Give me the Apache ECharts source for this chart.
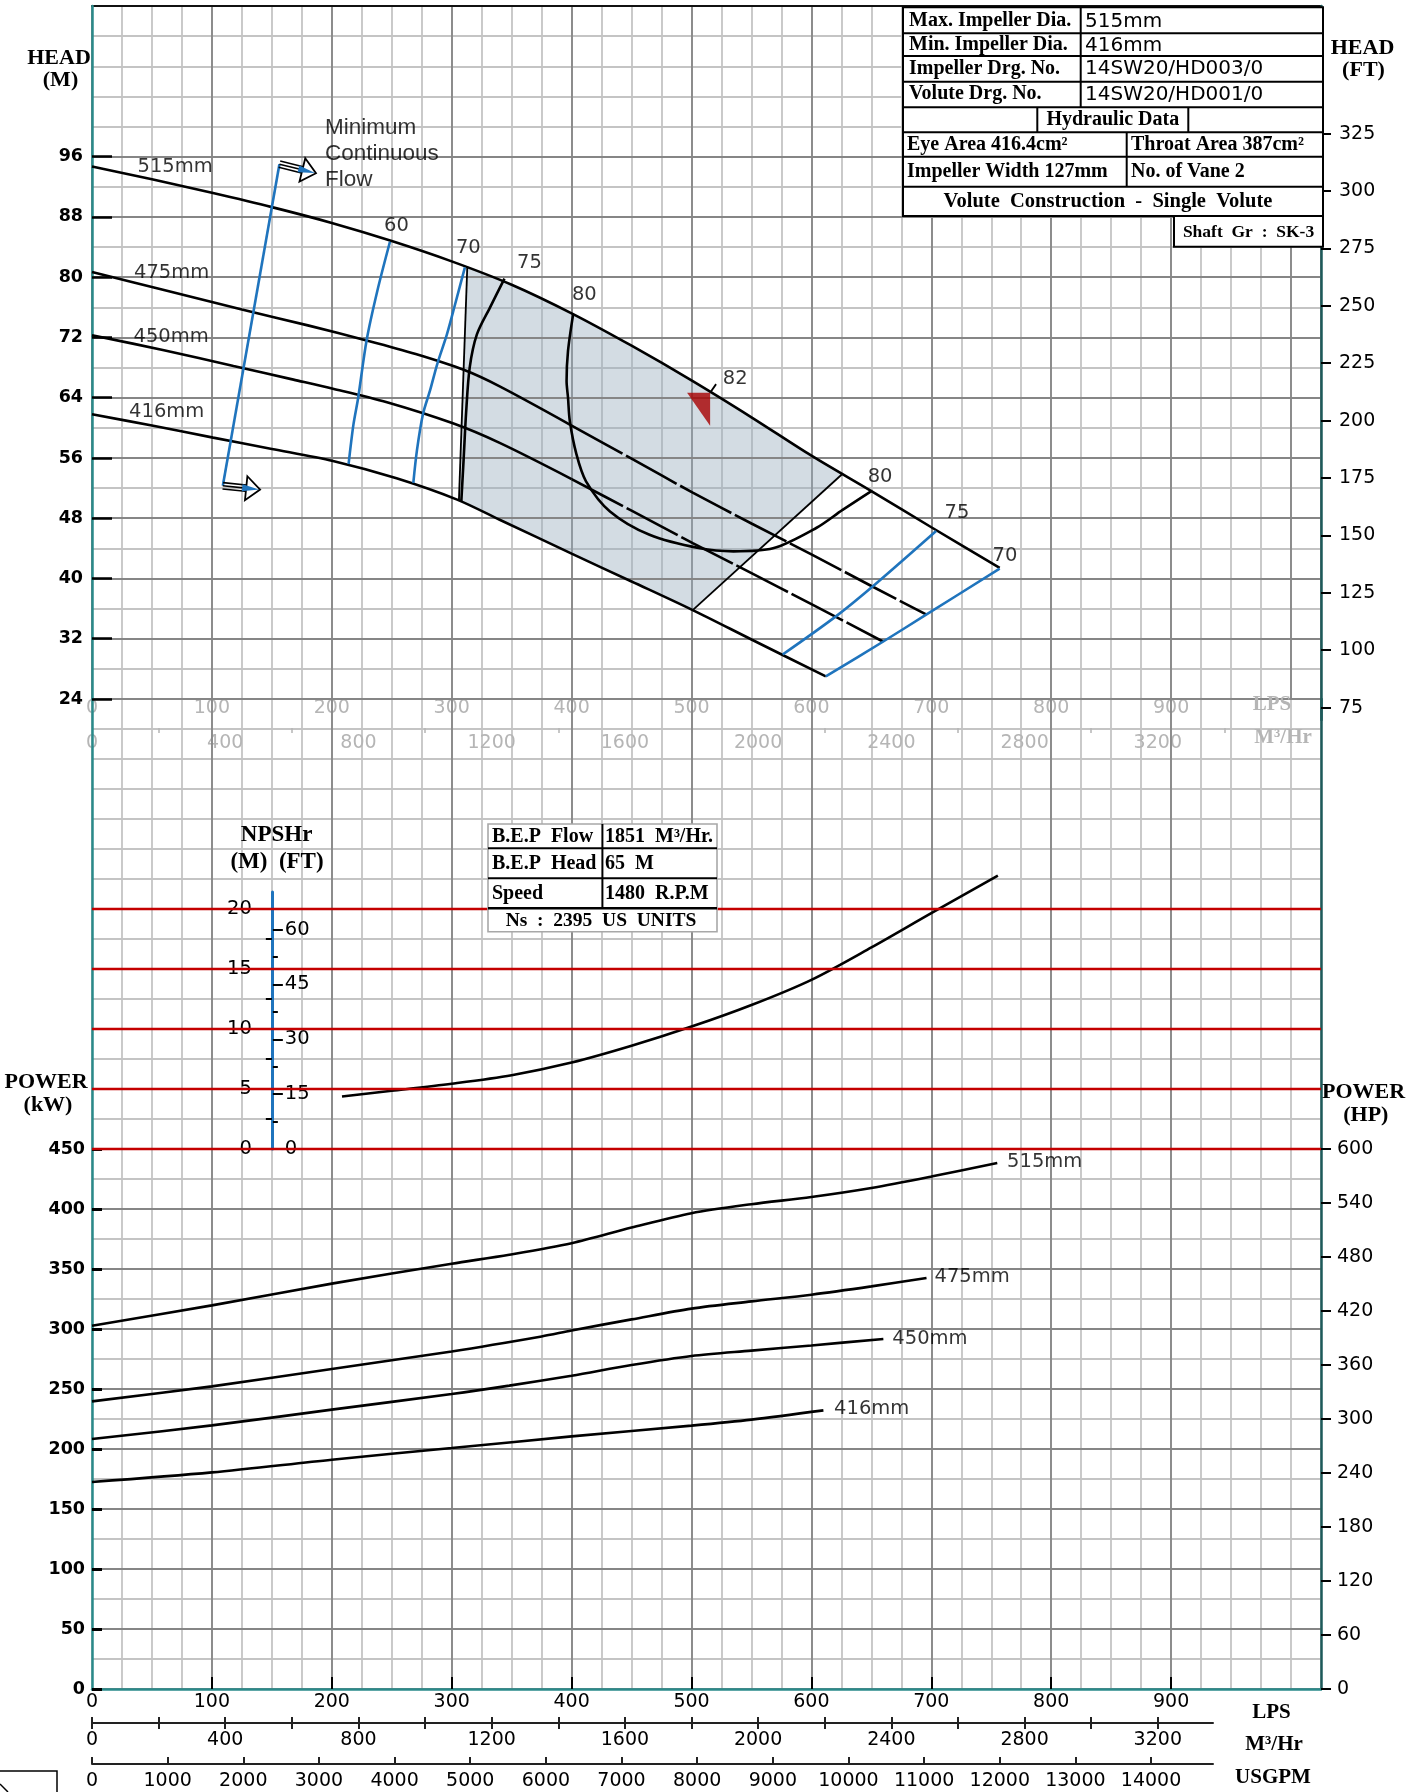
<!DOCTYPE html>
<html><head><meta charset="utf-8"><title>Pump performance curve</title>
<script src="https://cdn.jsdelivr.net/npm/echarts@6.0.0/dist/echarts.min.js"></script>
<style>html,body{margin:0;padding:0;background:#fff;}#chart{width:1423px;height:1792px;}</style>
</head><body><div id="chart"></div>
<script>
// ================= DATA =================
const lpsLabels = [0,100,200,300,400,500,600,700,800,900];
const m3hLabels = [0,400,800,1200,1600,2000,2400,2800,3200];
const m3hTicks = [0,200,400,600,800,1000,1200,1400,1600,1800,2000,2200,2400,2600,2800,3000,3200];
const m3hGrayTicks = [200,600,1000,1400,1800,2200,2600,3000,3400];
const gpmLabels = [0,1000,2000,3000,4000,5000,6000,7000,8000,9000,10000,11000,12000,13000,14000];
const headMLabels = [24,32,40,48,56,64,72,80,88,96];
const headFtLabels = [75,100,125,150,175,200,225,250,275,300,325];
const powerKwLabels = [0,50,100,150,200,250,300,350,400,450];
const powerHpLabels = [0,60,120,180,240,300,360,420,480,540,600];
const npshMLabels = [0,5,10,15,20];
const npshMMinor = [2.5,7.5,12.5,17.5];
const npshFtLabels = [0,15,30,45,60];
const npshFtMinor = [7.5,22.5,37.5,52.5];

// Head (m) vs flow (LPS) per impeller diameter
const head515 = [[0,94.7],[50,93.0],[100,91.2],[150,89.3],[200,87.2],[250,84.8],[300,82.1],[350,79.0],[400,75.2],[450,70.9],[500,66.3],[550,61.4],[600,56.3],[650,51.6],[700,46.8],[757,41.4]];
const head475 = [[0,80.7],[60,78.3],[125,75.7],[180,73.6],[229,71.6],[270,69.8],[310,67.7],[340,65.5],[400,60.3],[450,55.9],[501,51.4],[550,47.3],[600,43.2],[650,39.0],[696,35.2]];
const head450 = [[0,72.3],[60,70.3],[118,68.2],[168,66.4],[201,65.2],[246,63.4],[301,60.6],[340,58.0],[400,53.2],[450,49.0],[501,44.7],[550,40.7],[600,36.6],[660,31.6]];
const head416 = [[0,61.8],[50,60.3],[101,58.7],[150,57.2],[201,55.6],[254,53.3],[304,50.5],[340,47.8],[400,43.3],[450,39.6],[501,35.8],[550,31.9],[612,27.0]];

// Efficiency iso-lines (LPS, m)
const eff60 = [[248.5,84.7],[238,78.2],[229,71.6],[222,64.0],[218,60.4],[214,55.2]];
const eff70L = [[311,81.3],[303,76.5],[296,72.4],[288,68.5],[282,65.0],[276,61.8],[271,57.0],[268,52.7]];
const eff75L = [[344,79.8],[332,76.0],[321,72.4],[315,68.0],[312,62.0],[310,56.0],[308,50.2]];
const eff80 = [[401.3,75.1],[397,70.2],[395.8,66.2],[397,64.0],[398.5,60.9],[404,56.5],[412,52.9],[432,48.9],[465,45.8],[507,44.0],[535,43.6],[568,44.0],[604,46.7],[626,49.1],[650,51.6]];
const eff75R = [[704,46.3],[653,39.2],[620.7,35.0],[576,29.9]];
const eff70R = [[757,41.3],[695.7,35.2],[659.6,31.6],[612,27.0]];
const rangeLeft = [[313,81.4],[306,50.3]];
const rangeRight = [[626,53.9],[501,35.8]];

// Minimum continuous flow line and arrows [x1,y1,x2,y2]
const minFlowLine = [[156.3,95.0],[109.1,52.3]];
const minFlowArrows = [[156.3,95.0,186.8,93.8],[109.1,52.3,140.2,51.8]];

// Best efficiency point and its leader to the "82" label
const bep = [[515.5,64.65]];
const bepLeader = [[515.5,64.65],[520.5,65.8]];

// Power (kW) vs flow (LPS)
const pow515 = [[0,302.7],[100,319.7],[200,337.8],[300,354.4],[348,361.9],[400,371.5],[450,384.5],[500,396.5],[550,404.0],[600,410.0],[650,417.5],[700,427.0],[755,438.3]];
const pow475 = [[0,239.7],[100,252.2],[200,266.7],[300,281.3],[375,293.8],[400,298.8],[450,308.0],[500,317.0],[550,323.0],[600,328.6],[650,335.5],[696,342.5]];
const pow450 = [[0,208.3],[100,219.7],[200,232.8],[300,245.8],[348,252.8],[400,261.1],[450,270.0],[500,277.5],[550,282.0],[600,286.3],[660,291.7]];
const pow416 = [[0,172.5],[100,180.5],[200,191.1],[300,200.8],[400,210.5],[500,219.5],[550,224.5],[610,232.2]];

// NPSHr (m) vs flow (LPS)
const npshr = [[208.5,4.38],[250,4.85],[300,5.44],[350,6.15],[400,7.2],[450,8.6],[500,10.2],[550,12.0],[600,14.1],[650,16.8],[700,19.66],[755.5,22.78]];

// Annotation labels [x, y, text, align]
const headCurveLabels = [[69.3,94.6,'515mm'],[66.4,80.55,'475mm'],[66,72.06,'450mm'],[62.3,62.1,'416mm']];
const effLabels = [[253.9,86.8,'60'],[313.9,83.9,'70'],[364.8,81.9,'75'],[410.6,77.6,'80'],[536.4,66.5,'82'],[657.3,53.5,'80'],[721.4,48.7,'75'],[761.4,43.0,'70']];
const mcfLabels = [[194.3,96.35,'Minimum\nContinuous\nFlow','left']];
const powerCurveLabels = [[763.2,439.4,'515mm','left'],[702.7,343.1,'475mm','left'],[667.5,291.4,'450mm','left'],[618.9,233.1,'416mm','left']];

// ================= LAYOUT / UNITS =================
const L = 92, RE = 1321, W = RE - L;
const TOP = 6, HEAD_BOT = 699, POW_BOT = 1689;
const X_MAX = 1025, H_MIN = 24, H_MAX = 116;
const PX_PER_M = (HEAD_BOT - TOP) / (H_MAX - H_MIN);
const PX_PER_KW = 1.2, PX_PER_LPS = W / X_MAX;
const KW_MAX = (POW_BOT - HEAD_BOT) / PX_PER_KW;
const M_TO_FT = 3.28084, KW_TO_HP = 4 / 3, LPS_TO_M3H = 3.6, LPS_PER_GPM = 0.0630902;
const NPSH_ZERO_KW = 450, KW_PER_NPSH_M = 10;
const NPSH0_Y = POW_BOT - NPSH_ZERO_KW * PX_PER_KW;
const NPSH_AX_TOP = 892;
const NPSH_AX_MAX = (NPSH0_Y - NPSH_AX_TOP) / (KW_PER_NPSH_M * PX_PER_KW);
const FT_GRID_BOT = 720;
const FT_MIN = (H_MIN - (FT_GRID_BOT - HEAD_BOT) / PX_PER_M) * M_TO_FT;
const FT_MAX = H_MAX * M_TO_FT;
const SCALE_W = 1121;
const M3H_MAX = SCALE_W / PX_PER_LPS * LPS_TO_M3H;
const GPM_MAX = SCALE_W / PX_PER_LPS / LPS_PER_GPM;
const DASH_FROM = 400;

const LIGHT = '#c4c4c4', DARK = '#868686', TEAL = '#2a8a8a', TEAL_D = '#1d5a5a', BLUE = '#1f74bd', RED = '#c40000', GRAY = '#b5b5b5';
const NUMF = 'DejaVu Sans', SERIF = 'Liberation Serif';
const fmt = v => String(v);

function ax(o) {
  return Object.assign({type:'value', silent:true, axisLine:{show:false}, axisTick:{show:false},
    axisLabel:{show:false}, splitLine:{show:false}}, o);
}
const lbl = (o) => Object.assign({show:true, color:'#000', fontFamily:NUMF, fontSize:19, formatter:fmt}, o);
const lblB = (o) => lbl(Object.assign({fontWeight:'bold', fontSize:17.5}, o));
const splitL = (c, w) => ({show:true, lineStyle:{color:c, width:w}});

const xAxis = [
  ax({gridIndex:0, min:0, max:X_MAX, interval:25, splitLine:splitL(LIGHT,1.8), z:0}),
  ax({gridIndex:0, position:'top', min:0, max:X_MAX, interval:100, splitLine:splitL(DARK,1.8),
      axisLine:{show:true, onZero:false, lineStyle:{color:'#111', width:2}}, z:1}),
  ax({gridIndex:0, position:'bottom', min:0, max:X_MAX,
      axisLabel:lbl({customValues:lpsLabels, margin:0, color:GRAY}), z:1}),
  ax({gridIndex:0, position:'bottom', offset:29, min:0, max:X_MAX*LPS_TO_M3H,
      axisTick:{show:true, customValues:m3hGrayTicks, length:5, lineStyle:{color:GRAY, width:1.5}},
      axisLabel:lbl({customValues:m3hLabels, margin:6, color:GRAY}), z:1}),
  ax({gridIndex:1, min:0, max:X_MAX, interval:25, splitLine:splitL(LIGHT,1.8), z:0}),
  ax({gridIndex:1, position:'bottom', min:0, max:X_MAX, interval:100, splitLine:splitL(DARK,1.8),
      axisLine:{show:true, onZero:false, lineStyle:{color:TEAL, width:2.5}},
      axisTick:{show:true, inside:true, length:12, customValues:lpsLabels.filter(v=>v>0), lineStyle:{color:'#000', width:2}},
      axisLabel:lbl({customValues:lpsLabels, margin:4}), z:3}),
  ax({gridIndex:2, min:0, max:1}),
  ax({gridIndex:3, position:'bottom', min:0, max:M3H_MAX,
      axisLine:{show:true, onZero:false, lineStyle:{color:'#222', width:2}},
      axisTick:{show:true, customValues:m3hTicks, length:6, lineStyle:{color:'#222', width:2}},
      axisLabel:lbl({customValues:m3hLabels, margin:8})}),
  ax({gridIndex:3, position:'bottom', min:0, max:M3H_MAX,
      axisTick:{show:true, inside:true, customValues:m3hTicks, length:6, lineStyle:{color:'#222', width:2}}}),
  ax({gridIndex:4, position:'bottom', min:0, max:GPM_MAX,
      axisLine:{show:true, onZero:false, lineStyle:{color:'#222', width:2}},
      axisTick:{show:true, inside:true, customValues:gpmLabels, length:7, lineStyle:{color:'#222', width:2}},
      axisLabel:lbl({customValues:gpmLabels, margin:8})}),
  ax({gridIndex:5, min:0, max:1})
];

const yAxis = [
  ax({gridIndex:0, min:H_MIN, max:H_MAX, interval:4, splitLine:splitL(LIGHT,1.8), z:0}),
  ax({gridIndex:0, position:'left', min:H_MIN, max:H_MAX, interval:8, splitLine:splitL(DARK,1.8),
      axisLine:{show:true, onZero:false, lineStyle:{color:TEAL, width:2.5}},
      axisTick:{show:true, inside:true, length:20, customValues:headMLabels, lineStyle:{color:'#000', width:2.5}},
      axisLabel:lblB({customValues:headMLabels, margin:9}), z:3}),
  ax({gridIndex:5, position:'right', min:FT_MIN, max:FT_MAX,
      axisLine:{show:true, onZero:false, lineStyle:{color:TEAL_D, width:2.5}},
      axisTick:{show:true, length:10, customValues:headFtLabels, lineStyle:{color:'#000', width:2}},
      axisLabel:lbl({customValues:headFtLabels, margin:18}), z:3}),
  ax({gridIndex:1, min:0, max:KW_MAX, interval:25, splitLine:splitL(LIGHT,1.8), z:0}),
  ax({gridIndex:1, position:'left', min:0, max:KW_MAX, interval:50, splitLine:splitL(DARK,1.8),
      axisLine:{show:true, onZero:false, lineStyle:{color:TEAL, width:2.5}},
      axisTick:{show:true, inside:true, length:10, customValues:powerKwLabels, lineStyle:{color:'#000', width:3}},
      axisLabel:lblB({customValues:powerKwLabels, margin:7}), z:3}),
  ax({gridIndex:1, position:'right', min:0, max:KW_MAX*KW_TO_HP,
      axisLine:{show:true, onZero:false, lineStyle:{color:TEAL_D, width:2.5}},
      axisTick:{show:true, length:10, customValues:powerHpLabels, lineStyle:{color:'#000', width:2}},
      axisLabel:lbl({customValues:powerHpLabels, margin:16}), z:3}),
  ax({gridIndex:1, min:-NPSH_ZERO_KW/KW_PER_NPSH_M, max:(KW_MAX-NPSH_ZERO_KW)/KW_PER_NPSH_M}),
  ax({gridIndex:2, position:'left', min:0, max:NPSH_AX_MAX,
      axisLine:{show:true, onZero:false, lineStyle:{color:BLUE, width:3}},
      axisTick:{show:true, length:6, customValues:npshMMinor, lineStyle:{color:'#000', width:2}},
      axisLabel:lbl({customValues:npshMLabels, margin:20, fontSize:19.5}), z:4}),
  ax({gridIndex:2, position:'left', min:0, max:NPSH_AX_MAX,
      axisTick:{show:true, length:12, customValues:npshMLabels, lineStyle:{color:'#000', width:2}}, z:4}),
  ax({gridIndex:2, position:'right', min:0, max:NPSH_AX_MAX*M_TO_FT,
      axisTick:{show:true, length:10, customValues:npshFtLabels, lineStyle:{color:'#000', width:2}},
      axisLabel:lbl({customValues:npshFtLabels, margin:12, fontSize:19.5}), z:4}),
  ax({gridIndex:2, position:'right', min:0, max:NPSH_AX_MAX*M_TO_FT,
      axisTick:{show:true, length:5, customValues:npshFtMinor, lineStyle:{color:'#000', width:2}}, z:4}),
  ax({gridIndex:3, min:0, max:1}),
  ax({gridIndex:4, min:0, max:1})
];

const grid = [
  {left:L, top:TOP, width:W, height:HEAD_BOT-TOP},
  {left:L, top:HEAD_BOT, width:W, height:POW_BOT-HEAD_BOT},
  {left:L + 150*PX_PER_LPS, top:NPSH_AX_TOP, width:1, height:NPSH0_Y-NPSH_AX_TOP},
  {left:L, top:1722, width:SCALE_W, height:1},
  {left:L, top:1763, width:SCALE_W, height:1},
  {left:L, top:TOP, width:W, height:FT_GRID_BOT-TOP}
];

function curve(data, color, width, xi, yi, opts) {
  return Object.assign({type:'line', data, xAxisIndex:xi, yAxisIndex:yi, symbol:'none', showSymbol:false,
    smooth:0.3, lineStyle:{color, width}, z:4, silent:true, clip:false}, opts || {});
}
function labelSeries(items, xi, yi, style) {
  return {type:'scatter', xAxisIndex:xi, yAxisIndex:yi, symbolSize:1, itemStyle:{color:'rgba(0,0,0,0)'}, z:7, silent:true,
    data: items.map(d => ({value:[d[0], d[1]], label:Object.assign({show:true, position:'inside', formatter:d[2],
      align:d[3] || 'center', verticalAlign:'middle', color:'#000'}, style)}))};
}
const dashed = {lineStyle:{color:'#000', width:2.6, type:[58,4]}};

// shaded preferred operating region built from the curves
const shadePts = [].concat(
  [rangeLeft[0], rangeLeft[1]],
  head416.filter(p => p[0] > rangeLeft[1][0] && p[0] < rangeRight[1][0]),
  [rangeRight[1], rangeRight[0]],
  head515.filter(p => p[0] > rangeLeft[0][0] && p[0] < rangeRight[0][0]).reverse()
);

const series = [
  {type:'custom', xAxisIndex:1, yAxisIndex:1, z:2, silent:true, data:[shadePts[0]],
    renderItem: (params, api) => ({type:'polygon', shape:{points: shadePts.map(p => api.coord(p))},
      style:{fill:'rgba(150,172,188,0.42)'}})},
  curve(head515, '#000', 2.6, 1, 1),
  curve(head475.filter(p => p[0] <= DASH_FROM), '#000', 2.6, 1, 1),
  curve(head475.filter(p => p[0] >= DASH_FROM), '#000', 2.6, 1, 1, dashed),
  curve(head450.filter(p => p[0] <= DASH_FROM), '#000', 2.6, 1, 1),
  curve(head450.filter(p => p[0] >= DASH_FROM), '#000', 2.6, 1, 1, dashed),
  curve(head416, '#000', 2.6, 1, 1),
  curve(eff60, BLUE, 2.6, 1, 1),
  curve(eff70L, BLUE, 2.6, 1, 1),
  curve(eff75L, '#000', 2.6, 1, 1),
  curve(eff80, '#000', 2.6, 1, 1),
  curve(eff75R, BLUE, 2.6, 1, 1),
  curve(eff70R, BLUE, 2.6, 1, 1),
  curve(rangeLeft, '#000', 1.8, 1, 1, {smooth:false}),
  curve(rangeRight, '#000', 1.8, 1, 1, {smooth:false}),
  curve(minFlowLine, BLUE, 2.6, 1, 1, {smooth:false}),
  curve(bepLeader, '#000', 1.8, 1, 1, {smooth:false}),
  {type:'custom', xAxisIndex:1, yAxisIndex:1, z:6, silent:true, data:minFlowArrows,
    renderItem: (params, api) => {
      const a = api.coord([api.value(0), api.value(1)]);
      const b = api.coord([api.value(2), api.value(3)]);
      const dx = b[0]-a[0], dy = b[1]-a[1], len = Math.hypot(dx, dy);
      const ux = dx/len, uy = dy/len, nx = -uy, ny = ux;
      const hl = 14, hw = 12, se = len - hl;
      const P = (t, s) => [a[0]+ux*t+nx*s, a[1]+uy*t+ny*s];
      const ch = [];
      [-3.2, 0, 3.2].forEach(s => {
        const p1 = P(0, s), p2 = P(se + 2, s);
        ch.push({type:'line', shape:{x1:p1[0], y1:p1[1], x2:p2[0], y2:p2[1]}, style:{stroke:'#000', lineWidth:1.6}});
      });
      ch.push({type:'polygon', shape:{points:[P(se,-hw), P(len,0), P(se,hw)]}, style:{fill:'#fff', stroke:'#000', lineWidth:1.8}});
      ch.push({type:'polygon', shape:{points:[P(se-4,-3.5), P(len-1,0), P(se-4,3.5)]}, style:{fill:BLUE}});
      return {type:'group', children:ch};
    }},
  {type:'scatter', xAxisIndex:1, yAxisIndex:1, z:6, silent:true, data:bep,
    symbol:'path://M0,0L23,0L23,33Z', symbolSize:[23,33], symbolOffset:[-11.5,16.5], itemStyle:{color:'#a80000'}},
  labelSeries(headCurveLabels, 1, 1, {fontFamily:NUMF, fontSize:19.5}),
  labelSeries(effLabels, 1, 1, {fontFamily:NUMF, fontSize:19.5}),
  labelSeries(mcfLabels, 1, 1, {fontFamily:'Liberation Sans', fontSize:22.5, lineHeight:26}),
  curve(pow515, '#000', 2.6, 5, 4),
  curve(pow475, '#000', 2.6, 5, 4),
  curve(pow450, '#000', 2.6, 5, 4),
  curve(pow416, '#000', 2.6, 5, 4),
  curve(npshr, '#000', 2.6, 5, 6, {
    markLine:{silent:true, symbol:'none', animation:false, label:{show:false},
      lineStyle:{color:RED, width:2.4, type:'solid'}, emphasis:{disabled:true},
      data: npshMLabels.map(v => ({yAxis:v}))}}),
  labelSeries(powerCurveLabels, 5, 4, {fontFamily:NUMF, fontSize:19.5})
];

// ================= STATIC TEXT & TABLES =================
function T(text, x, y, o) {
  return {type:'text', z:20, silent:true, style:Object.assign({text, x, y, align:'center', verticalAlign:'middle',
    fill:'#000', fontFamily:SERIF, fontWeight:'bold', fontSize:22}, o || {})};
}
function LN(x1, y1, x2, y2, c, w) {
  return {type:'line', z:19, silent:true, shape:{x1, y1, x2, y2}, style:{stroke:c || '#000', lineWidth:w || 2}};
}
function RC(x, y, w, h, stroke, lw) {
  return {type:'rect', z:18, silent:true, shape:{x, y, width:w, height:h}, style:{fill:'#fff', stroke:stroke || '#000', lineWidth:lw || 2}};
}
const tl = {align:'left', fontSize:20};
const tv = {align:'left', fontFamily:NUMF, fontWeight:'normal', fontSize:20};
const tb = {align:'left', fontSize:20};
const graphic = [
  T('HEAD', 59, 58), T('(M)', 60.5, 80),
  T('HEAD', 1362.5, 48), T('(FT)', 1363.5, 70),
  T('POWER', 46, 1082), T('(kW)', 48, 1105),
  T('POWER', 1363.5, 1092), T('(HP)', 1365.8, 1115),
  T('NPSHr', 276.6, 835, {fontSize:23}), T('(M)  (FT)', 277, 862, {fontSize:23}),
  T('LPS', 1271.5, 1713, {fontSize:21}), T('M³/Hr', 1274, 1745, {fontSize:21}), T('USGPM', 1273, 1778, {fontSize:21}),
  T('LPS', 1272, 705, {fontSize:21, fill:GRAY}), T('M³/Hr', 1283, 738, {fontSize:21, fill:GRAY}),
  // top-right data table
  RC(903, 7.3, 420, 208.7),
  LN(903, 33.3, 1323, 33.3), LN(903, 56, 1323, 56), LN(903, 81.7, 1323, 81.7), LN(903, 107.3, 1323, 107.3),
  LN(903, 132.3, 1323, 132.3), LN(903, 156.7, 1323, 156.7), LN(903, 186.7, 1323, 186.7),
  LN(1080.7, 7.3, 1080.7, 107.3), LN(1037.3, 107.3, 1037.3, 132.3), LN(1188.3, 107.3, 1188.3, 132.3),
  LN(1126.7, 132.3, 1126.7, 186.7),
  T('Max. Impeller Dia.', 909, 21, tl), T('515mm', 1085, 22, tv),
  T('Min. Impeller Dia.', 909, 44.5, tl), T('416mm', 1085, 46, tv),
  T('Impeller Drg. No.', 909, 68.5, tl), T('14SW20/HD003/0', 1085, 69, tv),
  T('Volute Drg. No.', 909, 94, tl), T('14SW20/HD001/0', 1085, 94.5, tv),
  T('Hydraulic Data', 1112.8, 120, {fontSize:20}),
  T('Eye Area 416.4cm²', 907, 145, tl), T('Throat Area 387cm²', 1131, 145, tl),
  T('Impeller Width 127mm', 907, 172, tl), T('No. of Vane 2', 1131, 172, tl),
  T('Volute  Construction  -  Single  Volute', 1108, 202, {fontSize:20.5}),
  RC(1174, 216, 149, 30.7),
  T('Shaft  Gr  :  SK-3', 1248.5, 232, {fontSize:17.5}),
  // B.E.P table
  RC(488, 824, 229, 107.7, '#a8a8a8', 1.6),
  LN(488, 848.3, 717, 848.3), LN(488, 878.3, 717, 878.3), LN(488, 908.3, 717, 908.3, '#000', 2.4),
  LN(602.4, 824, 602.4, 908.3),
  T('B.E.P  Flow', 492, 836.5, tb), T('1851  M³/Hr.', 605, 836.5, tb),
  T('B.E.P  Head', 492, 863.5, tb), T('65  M', 605, 863.5, tb),
  T('Speed', 492, 893.5, tb), T('1480  R.P.M', 605, 893.5, tb),
  T('Ns  :  2395  US  UNITS', 601, 920.5, {fontSize:19.5}),
  // cut-off corner box
  {type:'rect', z:18, silent:true, shape:{x:-2, y:1771, width:59, height:30}, style:{fill:'none', stroke:'#000', lineWidth:1.5}},
  LN(0, 1784, 8, 1792, '#000', 1.5)
];

const chart = echarts.init(document.getElementById('chart'), null, {renderer:'canvas'});
chart.setOption({animation:false, backgroundColor:'#fff', grid, xAxis, yAxis, series, graphic});
</script>
</body></html>
